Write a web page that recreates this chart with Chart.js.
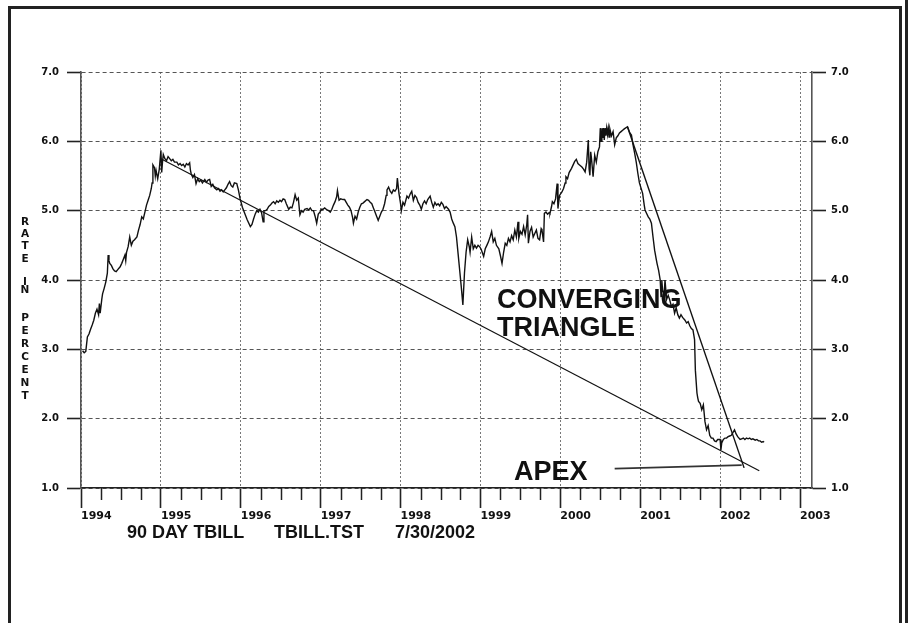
<!DOCTYPE html>
<html><head><meta charset="utf-8">
<script src="https://cdn.jsdelivr.net/npm/chart.js@4.4.1/dist/chart.umd.min.js"></script>
<style>html,body{margin:0;padding:0;background:#fff;}#wrap{width:908px;height:623px;}</style>
</head><body><div id="wrap"><canvas id="c" width="908" height="623"></canvas></div>
<script>
// ---- data (decimal year, 90 day T-bill rate in percent) ----
const years = [
1994.02,1994.04,1994.06,1994.08,1994.10,1994.12,1994.14,1994.16,1994.18,1994.20,1994.22,1994.23,1994.24,1994.26,1994.27,1994.29,1994.31,1994.33,1994.34,1994.35,1994.36,1994.38,1994.40,1994.42,1994.44,1994.46,1994.49,1994.51,1994.53,1994.55,1994.56,1994.57,1994.59,1994.61,1994.63,1994.65,1994.67,1994.70,1994.72,1994.74,1994.76,1994.78,1994.80,1994.82,1994.84,1994.86,1994.88,1994.89,1994.90,1994.92,1994.93,1994.94,1994.96,1994.98,
1995.00,1995.01,1995.02,1995.03,1995.05,1995.07,1995.09,1995.11,1995.13,1995.15,1995.17,1995.20,1995.22,1995.24,1995.26,1995.28,1995.30,1995.32,1995.34,1995.36,1995.37,1995.38,1995.40,1995.42,1995.44,1995.46,1995.48,1995.50,1995.52,1995.55,1995.57,1995.59,1995.61,1995.63,1995.65,1995.67,1995.70,1995.72,1995.74,1995.76,1995.78,1995.80,1995.82,1995.84,1995.86,1995.88,1995.90,1995.92,1995.95,1995.97,1995.99,
1996.02,1996.05,1996.08,1996.12,1996.14,1996.16,1996.18,1996.20,1996.22,1996.24,1996.26,1996.28,1996.29,1996.31,1996.33,1996.35,1996.37,1996.39,1996.41,1996.43,1996.45,1996.47,1996.49,1996.51,1996.53,1996.55,1996.57,1996.60,1996.62,1996.64,1996.66,1996.68,1996.70,1996.72,1996.74,1996.76,1996.78,1996.80,1996.83,1996.85,1996.87,1996.89,1996.91,1996.93,1996.95,1996.97,1996.99,
1997.01,1997.03,1997.05,1997.08,1997.10,1997.12,1997.14,1997.16,1997.18,1997.20,1997.21,1997.23,1997.25,1997.28,1997.30,1997.32,1997.34,1997.36,1997.38,1997.40,1997.41,1997.43,1997.45,1997.47,1997.49,1997.51,1997.53,1997.55,1997.58,1997.60,1997.62,1997.64,1997.66,1997.68,1997.70,1997.72,1997.74,1997.76,1997.78,1997.80,1997.82,1997.83,1997.85,1997.87,1997.89,1997.91,1997.93,1997.95,1997.96,1997.98,
1998.00,1998.01,1998.03,1998.05,1998.08,1998.10,1998.12,1998.14,1998.16,1998.18,1998.20,1998.22,1998.24,1998.26,1998.28,1998.30,1998.32,1998.34,1998.37,1998.39,1998.41,1998.43,1998.45,1998.47,1998.49,1998.51,1998.53,1998.55,1998.57,1998.60,1998.62,1998.64,1998.66,1998.68,1998.70,1998.72,1998.74,1998.76,1998.78,1998.80,1998.82,1998.84,1998.86,1998.87,1998.89,1998.91,1998.93,1998.95,1998.97,1998.99,
1999.01,1999.04,1999.06,1999.08,1999.10,1999.12,1999.14,1999.16,1999.18,1999.20,1999.23,1999.25,1999.27,1999.29,1999.31,1999.33,1999.35,1999.37,1999.39,1999.41,1999.43,1999.45,1999.47,1999.48,1999.50,1999.52,1999.54,1999.56,1999.58,1999.59,1999.60,1999.62,1999.64,1999.66,1999.68,1999.70,1999.72,1999.74,1999.76,1999.77,1999.79,1999.80,1999.82,1999.84,1999.86,1999.87,1999.89,1999.90,1999.92,1999.94,1999.96,1999.97,1999.99,
2000.02,2000.04,2000.06,2000.07,2000.09,2000.11,2000.14,2000.16,2000.18,2000.20,2000.22,2000.24,2000.27,2000.29,2000.31,2000.33,2000.35,2000.36,2000.37,2000.38,2000.39,2000.41,2000.43,2000.45,2000.47,2000.49,2000.50,2000.51,2000.52,2000.53,2000.54,2000.55,2000.56,2000.57,2000.58,2000.59,2000.60,2000.61,2000.62,2000.64,2000.66,2000.68,2000.70,2000.72,2000.74,2000.76,2000.78,2000.80,2000.84,2000.87,2000.89,2000.91,2000.93,2000.95,2000.97,2000.99,
2001.03,2001.05,2001.06,2001.08,2001.10,2001.12,2001.14,2001.16,2001.18,2001.20,2001.21,2001.23,2001.25,2001.26,2001.27,2001.28,2001.30,2001.31,2001.33,2001.35,2001.37,2001.39,2001.41,2001.43,2001.45,2001.47,2001.49,2001.51,2001.53,2001.56,2001.58,2001.60,2001.62,2001.64,2001.66,2001.68,2001.69,2001.71,2001.72,2001.73,2001.75,2001.77,2001.79,2001.81,2001.83,2001.85,2001.87,2001.89,2001.91,2001.93,2001.95,2001.97,
2002.00,2002.01,2002.02,2002.04,2002.06,2002.08,2002.10,2002.12,2002.14,2002.16,2002.18,2002.20,2002.22,2002.25,2002.27,2002.29,2002.31,2002.33,2002.35,2002.37,2002.39,2002.41,2002.44,2002.46,2002.48,2002.50,2002.52,2002.54,2002.55
];
const rates = [
2.98,2.95,2.97,3.18,3.22,3.29,3.35,3.42,3.52,3.58,3.50,3.66,3.52,3.72,3.80,3.88,3.97,4.10,4.36,4.28,4.24,4.21,4.16,4.13,4.12,4.15,4.19,4.24,4.30,4.36,4.28,4.40,4.48,4.62,4.50,4.56,4.58,4.62,4.72,4.80,4.91,4.88,4.98,5.08,5.15,5.22,5.32,5.40,5.66,5.62,5.50,5.58,5.46,5.60,
5.87,5.55,5.70,5.81,5.75,5.72,5.78,5.75,5.72,5.74,5.70,5.70,5.66,5.68,5.65,5.67,5.63,5.68,5.66,5.69,5.58,5.53,5.48,5.52,5.39,5.46,5.42,5.44,5.40,5.45,5.41,5.44,5.45,5.35,5.38,5.33,5.30,5.32,5.28,5.30,5.27,5.30,5.33,5.38,5.42,5.36,5.34,5.40,5.39,5.30,5.18,
5.05,4.96,4.87,4.77,4.80,4.88,4.95,5.00,4.98,5.02,4.97,4.84,5.00,5.00,5.02,5.06,5.08,5.11,5.13,5.10,5.14,5.12,5.15,5.13,5.17,5.16,5.10,5.02,5.05,5.04,5.12,5.23,5.15,5.18,4.94,5.00,4.98,5.02,5.03,5.01,5.04,5.00,5.00,4.92,4.82,4.95,4.98,
5.02,5.02,5.04,5.01,5.00,4.98,5.02,5.08,5.13,5.20,5.29,5.15,5.17,5.16,5.16,5.12,5.08,5.05,5.00,4.90,4.82,4.92,4.88,4.98,5.05,5.10,5.11,5.13,5.16,5.15,5.12,5.10,5.04,4.98,4.92,4.86,4.92,4.98,5.02,5.10,5.22,5.30,5.34,5.28,5.25,5.30,5.28,5.32,5.47,5.25,
5.10,5.00,5.12,5.08,5.21,5.18,5.24,5.28,5.15,5.22,5.19,5.12,5.08,5.02,5.10,5.14,5.10,5.16,5.21,5.12,5.05,5.12,5.08,5.10,5.07,5.12,5.09,5.03,5.06,5.02,4.98,4.88,4.82,4.77,4.62,4.38,4.14,3.90,3.64,4.10,4.40,4.58,4.48,4.40,4.62,4.45,4.50,4.46,4.50,4.48,
4.44,4.34,4.45,4.50,4.55,4.62,4.70,4.55,4.60,4.50,4.45,4.35,4.24,4.40,4.53,4.50,4.60,4.55,4.64,4.58,4.72,4.62,4.84,4.60,4.70,4.66,4.77,4.65,4.80,4.94,4.53,4.70,4.76,4.62,4.67,4.72,4.60,4.58,4.74,4.72,4.55,4.96,4.98,4.95,4.97,4.96,5.06,5.13,5.10,5.17,5.39,5.03,5.22,
5.27,5.32,5.40,5.49,5.46,5.55,5.61,5.66,5.71,5.74,5.68,5.66,5.63,5.60,5.56,5.70,6.02,5.60,5.51,5.85,5.75,5.49,5.80,5.70,5.85,5.92,6.19,6.00,6.19,6.05,6.19,6.02,6.19,6.08,6.19,6.10,6.19,6.06,6.18,6.08,6.14,5.95,6.05,6.08,6.12,6.14,6.16,6.18,6.21,6.12,6.09,5.95,5.83,5.70,5.54,5.40,
5.25,5.08,5.01,4.96,4.91,4.88,4.82,4.62,4.43,4.30,4.24,4.14,4.00,3.76,4.00,3.85,3.80,4.00,3.72,3.78,3.71,3.62,3.65,3.52,3.60,3.50,3.45,3.50,3.46,3.42,3.38,3.40,3.34,3.30,3.28,3.14,2.70,2.37,2.30,2.25,2.22,2.13,2.20,1.96,1.84,1.90,1.76,1.72,1.72,1.68,1.67,1.70,
1.70,1.55,1.65,1.70,1.72,1.72,1.74,1.75,1.76,1.80,1.84,1.78,1.74,1.70,1.71,1.72,1.70,1.72,1.71,1.72,1.70,1.71,1.69,1.70,1.68,1.68,1.66,1.67,1.66
];
// trend lines drawn on the chart
const lowerLineYears = [1995.0, 2002.49];
const lowerLineRates = [5.75, 1.25];
const upperLineYears = [2000.84, 2002.30];
const upperLineRates = [6.21, 1.29];
const apexLineYears = [2000.68, 2002.27];
const apexLineRates = [1.28, 1.33];
// axes
const yTickValues = [1, 2, 3, 4, 5, 6, 7];
const xTickYears = [1994, 1995, 1996, 1997, 1998, 1999, 2000, 2001, 2002, 2003];
const xMin = 1994, xMax = 2003.15;
const yLabelLetters = ['R','A','T','E','I','N','P','E','R','C','E','N','T'];
const titleParts = ['90 DAY TBILL', 'TBILL.TST', '7/30/2002'];

function pts(xs, ys) { return xs.map((x, i) => ({x: x, y: ys[i]})); }

const decor = {
  id: 'decor',
  beforeDraw(chart) {
    const c = chart.ctx; c.save(); c.fillStyle = '#fff'; c.fillRect(0, 0, chart.width, chart.height); c.restore();
  },
  afterDraw(chart) {
    const c = chart.ctx, xs = chart.scales.x, ys = chart.scales.y;
    const base = ys.getPixelForValue(1);
    c.save();
    // minor (quarter) ticks
    c.strokeStyle = '#222'; c.lineWidth = 1.5;
    for (let i = 0; i < xTickYears.length - 1; i++) {
      for (let q = 1; q < 4; q++) {
        const px = Math.round(xs.getPixelForValue(xTickYears[i] + q / 4)) + 0.5;
        c.beginPath(); c.moveTo(px, base); c.lineTo(px, base + 12); c.stroke();
      }
    }
    // outer frame
    c.fillStyle = '#222';
    c.fillRect(8, 6, 894, 3);
    c.fillRect(8, 6, 3, 623);
    c.fillRect(899, 6, 3, 623);
    c.fillRect(905, 0, 3, 623);
    // vertical axis title
    c.font = 'bold 10.5px "DejaVu Sans", sans-serif';
    c.textAlign = 'center'; c.textBaseline = 'middle'; c.fillStyle = '#111';
    const ly = [222, 234, 246.5, 259, 282, 290.5, 318.5, 331.5, 344.5, 357.5, 370.5, 383.5, 396.5];
    yLabelLetters.forEach((ch, i) => c.fillText(ch, 25, ly[i]));
    // bottom title
    c.font = 'bold 18px "Liberation Sans", Arial, sans-serif';
    c.textAlign = 'left'; c.textBaseline = 'alphabetic';
    const tx = [127, 274, 395];
    titleParts.forEach((t, i) => c.fillText(t, tx[i], 538));
    // annotations
    c.font = 'bold 27px "Liberation Sans", Arial, sans-serif';
    c.fillText('CONVERGING', 497, 308);
    c.fillText('TRIANGLE', 497, 336);
    c.fillText('APEX', 514, 480);
    c.restore();
  }
};

new Chart(document.getElementById('c'), {
  type: 'line',
  data: {
    datasets: [
      {data: pts(years, rates), borderColor: '#111', borderWidth: 1.4, pointRadius: 0, tension: 0},
      {data: pts(lowerLineYears, lowerLineRates), borderColor: '#111', borderWidth: 1.2, pointRadius: 0},
      {data: pts(upperLineYears, upperLineRates), borderColor: '#111', borderWidth: 1.4, pointRadius: 0},
      {data: pts(apexLineYears, apexLineRates), borderColor: '#333', borderWidth: 1.6, pointRadius: 0}
    ]
  },
  options: {
    responsive: false, animation: false, devicePixelRatio: 1,
    layout: {padding: {top: 72, left: 0, right: 0, bottom: 0}},
    plugins: {legend: {display: false}, tooltip: {enabled: false}},
    scales: {
      x: {
        type: 'linear', min: xMin, max: xMax, position: 'bottom',
        afterFit: s => { s.height = 135; },
        afterBuildTicks: s => { s.ticks = xTickYears.map(v => ({value: v})); },
        ticks: {align: 'start', padding: 2, color: '#111', font: {family: '"DejaVu Sans", sans-serif', size: 11, weight: 'bold'}, callback: v => String(v)},
        grid: {color: '#777', lineWidth: 1, drawTicks: true, tickLength: 20, tickColor: '#222', tickWidth: 1.6, tickBorderDash: []},
        border: {display: true, color: '#222', width: 1.6, dash: [2, 2]}
      },
      y: {
        type: 'linear', min: 1, max: 7, position: 'left',
        afterFit: s => { s.width = 81; },
        afterBuildTicks: s => { s.ticks = yTickValues.map(v => ({value: v})); },
        ticks: {padding: 8, color: '#111', font: {family: '"DejaVu Sans", sans-serif', size: 10, weight: 'bold'}, callback: v => Number(v).toFixed(1)},
        grid: {color: '#555', lineWidth: 1, drawTicks: true, tickLength: 14, tickColor: '#222', tickWidth: 1.6, tickBorderDash: []},
        border: {display: true, color: '#555', width: 1.6, dash: [4, 3]}
      },
      y2: {
        type: 'linear', min: 1, max: 7, position: 'right',
        afterFit: s => { s.width = 96; },
        afterBuildTicks: s => { s.ticks = yTickValues.map(v => ({value: v})); },
        ticks: {padding: 5, color: '#111', font: {family: '"DejaVu Sans", sans-serif', size: 10, weight: 'bold'}, callback: v => Number(v).toFixed(1)},
        grid: {drawOnChartArea: false, drawTicks: true, tickLength: 14, tickColor: '#222', tickWidth: 1.6},
        border: {display: true, color: '#555', width: 1.6}
      }
    }
  },
  plugins: [decor]
});
</script>
</body></html>
